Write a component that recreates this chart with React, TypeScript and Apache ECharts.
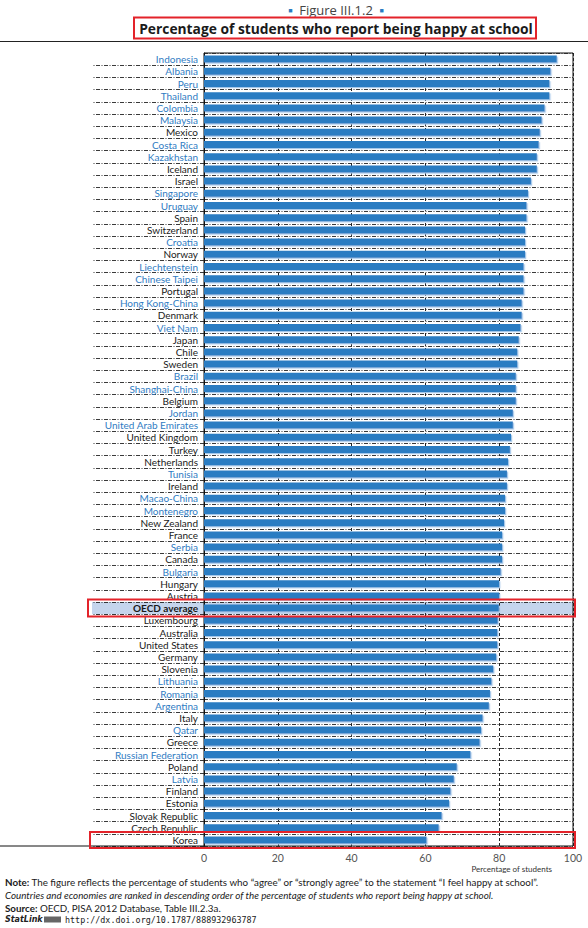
import React, { useEffect, useRef } from "react";
import * as echarts from "echarts";

const categories = [
  "Indonesia", "Albania", "Peru", "Thailand", "Colombia", "Malaysia", "Mexico", "Costa Rica",
  "Kazakhstan", "Iceland", "Israel", "Singapore", "Uruguay", "Spain", "Switzerland", "Croatia",
  "Norway", "Liechtenstein", "Chinese Taipei", "Portugal", "Hong Kong-China", "Denmark", "Viet Nam",
  "Japan", "Chile", "Sweden", "Brazil", "Shanghai-China", "Belgium", "Jordan", "United Arab Emirates",
  "United Kingdom", "Turkey", "Netherlands", "Tunisia", "Ireland", "Macao-China", "Montenegro",
  "New Zealand", "France", "Serbia", "Canada", "Bulgaria", "Hungary", "Austria", "OECD average",
  "Luxembourg", "Australia", "United States", "Germany", "Slovenia", "Lithuania", "Romania",
  "Argentina", "Italy", "Qatar", "Greece", "Russian Federation", "Poland", "Latvia", "Finland",
  "Estonia", "Slovak Republic", "Czech Republic", "Korea",
];

const values = [
  95.6, 93.9, 93.6, 93.6, 92.3, 91.5, 91.0, 90.7,
  90.2, 90.2, 88.6, 87.8, 87.4, 87.4, 87.0, 87.0,
  87.0, 86.6, 86.6, 86.6, 86.1, 86.1, 85.8,
  85.3, 84.9, 84.9, 84.5, 84.5, 84.5, 83.7, 83.7,
  83.2, 82.9, 82.4, 82.1, 82.1, 81.6, 81.6,
  81.3, 80.8, 80.8, 80.8, 80.4, 80.0, 80.0, 79.9,
  79.6, 79.5, 79.5, 79.2, 78.4, 77.9, 77.5,
  77.2, 75.5, 75.1, 74.7, 72.2, 68.5, 67.7, 66.8,
  66.4, 64.4, 63.6, 60.3,
];

const partners = [
  "Indonesia", "Albania", "Peru", "Thailand", "Colombia", "Malaysia", "Costa Rica", "Kazakhstan",
  "Singapore", "Uruguay", "Croatia", "Liechtenstein", "Chinese Taipei", "Hong Kong-China", "Viet Nam",
  "Brazil", "Shanghai-China", "Jordan", "United Arab Emirates", "Tunisia", "Macao-China", "Montenegro",
  "Serbia", "Bulgaria", "Lithuania", "Romania", "Argentina", "Qatar", "Russian Federation", "Latvia",
];

const highlighted = ["OECD average", "Korea"];
const xTicks = { min: 0, max: 100, interval: 20 };

const BLUE = "#2a7bc2";
const LABEL_BLUE = "#2f7cc3";
const RED = "#e3232a";
const DASHDOT = [4, 1.5, 1, 1.5];
const FONT = "Lato, 'Open Sans', sans-serif";
const TFONT = "'Open Sans', Lato, sans-serif";

export default function App() {
  const ref = useRef<HTMLDivElement>(null);
  useEffect(() => {
    document.body.style.margin = "0";
    const chart = echarts.init(ref.current!, null, { renderer: "svg" });
    const partnerSet = new Set(partners);
    chart.setOption({
      animation: false,
      backgroundColor: "#ffffff",
      textStyle: { fontFamily: FONT },
      grid: {
        left: 204, right: 15, top: 53, bottom: 82,
        show: true, borderColor: "#111", borderWidth: 1, backgroundColor: "transparent",
      },
      xAxis: {
        type: "value",
        min: xTicks.min, max: xTicks.max, interval: xTicks.interval,
        axisLine: { show: false },
        axisTick: { show: false },
        axisLabel: { color: "#555", fontSize: 10.5, margin: 6, fontFamily: FONT },
        splitLine: { show: true, lineStyle: { color: "#222", type: [3, 2], width: 1 } },
      },
      yAxis: {
        type: "category",
        data: categories,
        inverse: true,
        axisLine: { show: true, lineStyle: { color: "#111", width: 1 } },
        axisTick: {
          show: true, length: 111,
          interval: (i: number) => i !== 0,
          lineStyle: { color: "#222", width: 0.9, type: DASHDOT },
        },
        splitLine: { show: true, interval: 0, lineStyle: { color: "#222", width: 0.9, type: DASHDOT } },
        axisLabel: {
          interval: 0,
          margin: 6,
          fontSize: 10,
          fontFamily: FONT,
          formatter: (v: string) =>
            v === "OECD average" ? `{o|${v}}` : partnerSet.has(v) ? `{b|${v}}` : `{k|${v}}`,
          rich: {
            b: { color: LABEL_BLUE, fontSize: 10, fontFamily: FONT },
            k: { color: "#1a1a1a", fontSize: 10, fontFamily: FONT },
            o: { color: "#1a1a1a", fontSize: 10, fontWeight: "bold", fontFamily: FONT },
          },
        },
      },
      series: [
        {
          type: "bar",
          data: values,
          barWidth: 7,
          itemStyle: {
            color: BLUE,
            shadowColor: "#a5c8ea",
            shadowOffsetX: 1.2,
            shadowOffsetY: 1.2,
            shadowBlur: 0,
          },
          z: 3,
        },
      ],
    });

    const x0 = chart.convertToPixel({ xAxisIndex: 0 }, xTicks.min) as number;
    const x100 = chart.convertToPixel({ xAxisIndex: 0 }, xTicks.max) as number;
    const y0 = chart.convertToPixel({ yAxisIndex: 0 }, 0) as number;
    const y1 = chart.convertToPixel({ yAxisIndex: 0 }, 1) as number;
    const rowH = y1 - y0;
    const yBottom = (chart.convertToPixel({ yAxisIndex: 0 }, categories.length - 1) as number) + rowH / 2;
    const oIdx = categories.indexOf(highlighted[0]);
    const kIdx = categories.indexOf(highlighted[1]);
    const yO = chart.convertToPixel({ yAxisIndex: 0 }, oIdx) as number;
    const yK = chart.convertToPixel({ yAxisIndex: 0 }, kIdx) as number;

    const noteStyle = { fontSize: 9.8, fontFamily: FONT, fill: "#1a1a1a" };

    chart.setOption({
      graphic: [
        {
          type: "rect", z: -5, silent: true,
          shape: { x: 92, y: yO - rowH / 2, width: x100 - 92, height: rowH },
          style: { fill: "#c5d5ed" },
        },
        {
          type: "rect", z: 50, silent: true,
          shape: { x: 88, y: yO - 8.5, width: x100 - 88 + 2, height: 17 },
          style: { fill: "none", stroke: RED, lineWidth: 2 },
        },
        {
          type: "rect", z: 50, silent: true,
          shape: { x: 90, y: yK - 8, width: x100 - 90 + 2, height: 16 },
          style: { fill: "none", stroke: RED, lineWidth: 2 },
        },
        {
          type: "line", z: 10, silent: true,
          shape: { x1: 0, y1: yBottom, x2: x0, y2: yBottom },
          style: { stroke: "#111", lineWidth: 1 },
        },
        {
          type: "text", z: 10,
          x: 336, y: 10,
          style: {
            text: "{s|■}  Figure III.1.2  {s|■}",
            fill: "#444", fontSize: 13, fontFamily: TFONT,
            align: "center", verticalAlign: "middle",
            rich: { s: { fill: BLUE, fontSize: 7, fontFamily: TFONT } },
          },
        },
        {
          type: "text", z: 10,
          x: 336, y: 28.5,
          style: {
            text: "Percentage of students who report being happy at school",
            fill: "#1a1a1a", fontSize: 13.8, fontWeight: "bold", fontFamily: TFONT,
            align: "center", verticalAlign: "middle",
          },
        },
        {
          type: "rect", z: 10, silent: true,
          shape: { x: 134, y: 17.5, width: 402, height: 21 },
          style: { fill: "none", stroke: RED, lineWidth: 2 },
        },
        {
          type: "line", z: 10, silent: true,
          shape: { x1: 0, y1: 41.5, x2: 588, y2: 41.5 },
          style: { stroke: "#222", lineWidth: 1 },
        },
        {
          type: "text", z: 10,
          x: 552, y: 869,
          style: {
            text: "Percentage of students",
            fill: "#333", fontSize: 8, fontFamily: FONT,
            align: "right", verticalAlign: "middle",
          },
        },
        {
          type: "text", z: 10,
          x: 5, y: 882,
          style: {
            ...noteStyle,
            verticalAlign: "middle",
            text: "{b|Note:} The figure reflects the percentage of students who “agree” or “strongly agree” to the statement “I feel happy at school”.",
            rich: { b: { ...noteStyle, fontWeight: "bold" } },
          },
        },
        {
          type: "text", z: 10,
          x: 5, y: 895,
          style: {
            ...noteStyle,
            fontStyle: "italic",
            verticalAlign: "middle",
            text: "Countries and economies are ranked in descending order of the percentage of students who report being happy at school.",
          },
        },
        {
          type: "text", z: 10,
          x: 5, y: 907.5,
          style: {
            ...noteStyle,
            verticalAlign: "middle",
            text: "{b|Source:} OECD, PISA 2012 Database, Table III.2.3a.",
            rich: { b: { ...noteStyle, fontWeight: "bold" } },
          },
        },
        {
          type: "text", z: 10,
          x: 5, y: 919.5,
          style: {
            text: "StatLink",
            fill: "#222", fontSize: 8, fontWeight: "bold", fontStyle: "italic",
            fontFamily: "'DejaVu Sans', sans-serif", verticalAlign: "middle",
          },
        },
        {
          type: "rect", z: 10, silent: true,
          shape: { x: 44, y: 916.5, width: 17, height: 6 },
          style: { fill: "#666" },
        },
        {
          type: "text", z: 10,
          x: 65, y: 919.5,
          style: {
            text: "http://dx.doi.org/10.1787/888932963787",
            fill: "#222", fontSize: 8.4,
            fontFamily: "'DejaVu Sans Mono', 'Liberation Mono', monospace", verticalAlign: "middle",
          },
        },
      ],
    });
    return () => chart.dispose();
  }, []);
  return <div ref={ref} style={{ width: 588, height: 928 }} />;
}
